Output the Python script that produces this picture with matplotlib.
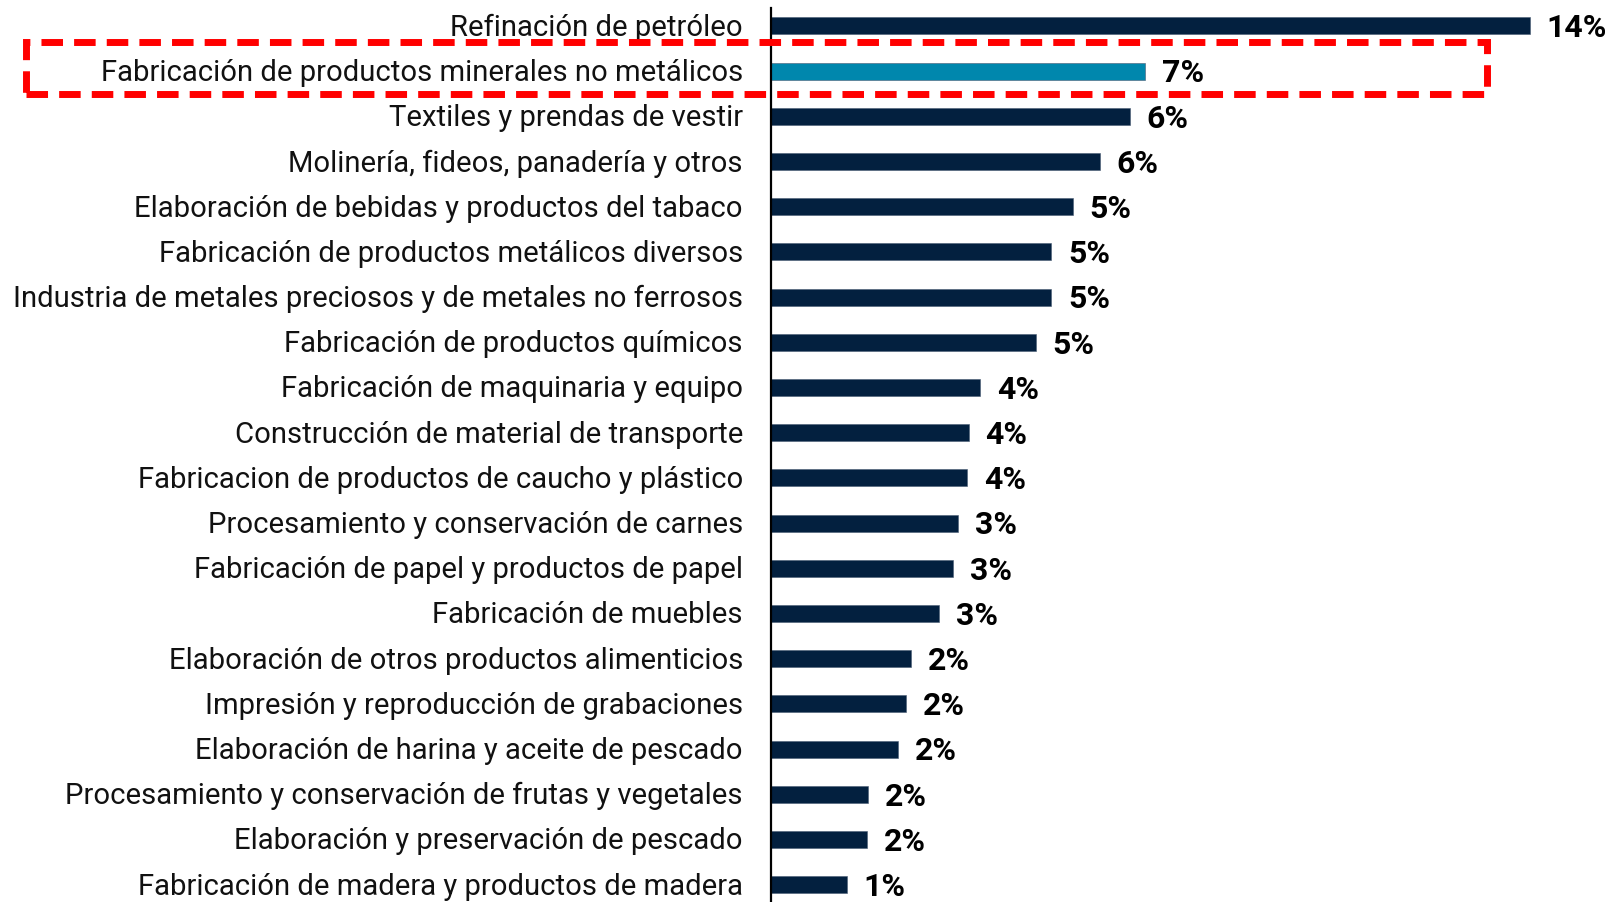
import matplotlib
matplotlib.use("Agg")
import matplotlib.pyplot as plt
from matplotlib.patches import Rectangle
from matplotlib.transforms import ScaledTranslation

categories = [
    "Refinación de petróleo",
    "Fabricación de productos minerales no metálicos",
    "Textiles y prendas de vestir",
    "Molinería, fideos, panadería y otros",
    "Elaboración de bebidas y productos del tabaco",
    "Fabricación de productos metálicos diversos",
    "Industria de metales preciosos y de metales no ferrosos",
    "Fabricación de productos químicos",
    "Fabricación de maquinaria y equipo",
    "Construcción de material de transporte",
    "Fabricacion de productos de caucho y plástico",
    "Procesamiento y conservación de carnes",
    "Fabricación de papel y productos de papel",
    "Fabricación de muebles",
    "Elaboración de otros productos alimenticios",
    "Impresión y reproducción de grabaciones",
    "Elaboración de harina y aceite de pescado",
    "Procesamiento y conservación de frutas y vegetales",
    "Elaboración y preservación de pescado",
    "Fabricación de madera y productos de madera",
]
values = [14.0, 6.9, 6.62, 6.07, 5.57, 5.18, 5.18, 4.89, 3.86, 3.65,
          3.63, 3.45, 3.36, 3.10, 2.58, 2.49, 2.34, 1.79, 1.77, 1.40]
value_labels = ["14%", "7%", "6%", "6%", "5%", "5%", "5%", "5%", "4%", "4%",
                "4%", "3%", "3%", "3%", "2%", "2%", "2%", "2%", "2%", "1%"]
highlight = "Fabricación de productos minerales no metálicos"

W, H = 1610, 903
fig = plt.figure(figsize=(W / 100, H / 100), dpi=100)
ax_left = 770.7 / W
ax_top = 1 - 9 / H
ax = fig.add_axes([ax_left, 0, 1 - ax_left, ax_top])

navy = "#03203f"
teal = "#0087ad"
colors = [teal if c == highlight else navy for c in categories]
y = list(range(len(categories)))
ax.barh(y, values, height=0.38, color=colors, edgecolor="#4a5c74", linewidth=0.4)

ax.set_ylim(19.383, -0.396)
ax.set_xlim(0, 15.485)
ax.set_yticks(y)
ax.set_yticklabels(categories, fontsize=21.1, family=["Roboto", "DejaVu Sans"], color="#111111")
ax.tick_params(axis="y", length=0, pad=20)
shift = ScaledTranslation(0, 2 / 100, fig.dpi_scale_trans)
for t in ax.get_yticklabels():
    t.set_transform(t.get_transform() + shift)
ax.set_xticks([])
for s in ["top", "right", "bottom"]:
    ax.spines[s].set_visible(False)
ax.spines["left"].set_linewidth(1.6)
ax.spines["left"].set_color("black")

px_per_unit = (W - 770.7) / 15.485
for yi, v, lab in zip(y, values, value_labels):
    ax.text(v + 17 / px_per_unit, yi + 0.03, lab, va="center", ha="left", fontsize=23,
            fontweight="bold", family=["Roboto", "DejaVu Sans"], color="black")

# dashed highlight box
x0, x1 = 26 / W, 1487 / W
y0, y1 = 1 - 95 / H, 1 - 43.3 / H
rect = Rectangle((x0, y0), x1 - x0, y1 - y0, transform=fig.transFigure,
                 fill=False, edgecolor="#ff0000", linewidth=5,
                 linestyle=(0, (3.1, 1.6)), clip_on=False)
fig.patches.append(rect)

fig.savefig("out.png", dpi=100)
